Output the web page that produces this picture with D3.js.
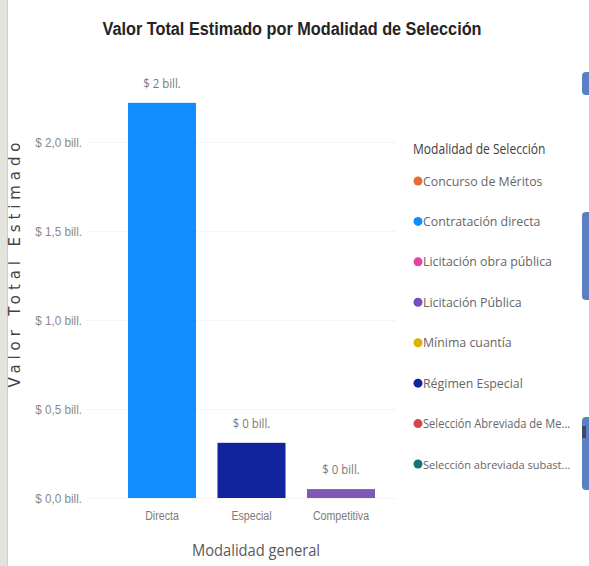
<!DOCTYPE html>
<meta charset="utf-8">
<title>Valor Total Estimado por Modalidad de Selección</title>
<body>
<script src="https://cdn.jsdelivr.net/npm/d3@7"></script>
<style>
html, body {
    margin: 0;
    background: #fff;
}
svg {
    display: block;
    font-family: "Open Sans", "Noto Sans", sans-serif;
}
</style>
<script>
var width = 589,
    height = 566;

// datos
var categorias = ["Directa", "Especial", "Competitiva"],
    valores = [2.22, 0.31, 0.05],
    etiquetas = ["$ 2 bill.", "$ 0 bill.", "$ 0 bill."],
    coloresBarra = ["#118DFF", "#12239E", "#7E57B8"];

var ticks = [0, 0.5, 1.0, 1.5, 2.0],
    tickLabels = ["$ 0,0 bill.", "$ 0,5 bill.", "$ 1,0 bill.", "$ 1,5 bill.", "$ 2,0 bill."];

var leyenda = [
    "Concurso de Méritos",
    "Contratación directa",
    "Licitación obra pública",
    "Licitación Pública",
    "Mínima cuantía",
    "Régimen Especial",
    "Selección Abreviada de Me...",
    "Selección abreviada subast..."
];
var coloresLeyenda = ["#E66C37", "#118DFF", "#E044A7", "#744EC2", "#D9B300", "#12239E", "#D64550", "#197278"];

var svg = d3.select("body").append("svg")
    .attr("width", width)
    .attr("height", height);

// franja gris a la izquierda
svg.append("rect").attr("x", 0).attr("y", 0).attr("width", 7).attr("height", height).attr("fill", "#e4e4df");
svg.append("line").attr("x1", 7.5).attr("x2", 7.5).attr("y1", 0).attr("y2", height).attr("stroke", "#cfcfca");

// bloques azules a la derecha
[[72, 95], [212, 300], [417, 490]].forEach(function(r) {
    svg.append("rect")
        .attr("x", 582).attr("y", r[0])
        .attr("width", 16).attr("height", r[1] - r[0])
        .attr("rx", 4)
        .attr("fill", "#5B7FC0");
});
svg.append("rect").attr("x", 582).attr("y", 426).attr("width", 4).attr("height", 12).attr("fill", "#3a4a66");

function condensar(sel, f, max) {
    sel.each(function() {
        var t = d3.select(this),
            l = this.getComputedTextLength();
        // si el texto no cabe, se reduce la letra
        if (max && l > max) {
            t.attr("font-size", +t.attr("font-size") * max / l);
            l = max;
        }
        t.attr("textLength", l * f).attr("lengthAdjust", "spacingAndGlyphs");
    });
}

// título
svg.append("text")
    .attr("x", 292)
    .attr("y", 35)
    .attr("text-anchor", "middle")
    .attr("font-family", "Liberation Sans, Arial, sans-serif")
    .attr("font-weight", "bold")
    .attr("font-size", 18)
    .attr("fill", "#252423")
    .text("Valor Total Estimado por Modalidad de Selección")
    .attr("textLength", 379)
    .attr("lengthAdjust", "spacingAndGlyphs");

var y = d3.scaleLinear()
    .domain([0, 2])
    .range([498, 142]);

var x = d3.scaleBand()
    .domain(categorias)
    .range([117, 386])
    .paddingInner(0.24)
    .paddingOuter(0.123);

// rejilla
svg.append("g")
    .selectAll("line")
    .data(ticks)
    .enter().append("line")
    .attr("x1", 86)
    .attr("x2", 396)
    .attr("y1", function(d) { return y(d) + 0.5; })
    .attr("y2", function(d) { return y(d) + 0.5; })
    .attr("stroke", "#ececec")
    .attr("stroke-dasharray", "1,1");

// eje y
var yAxis = svg.append("g")
    .attr("transform", "translate(82,0)")
    .call(d3.axisLeft(y).tickValues(ticks).tickSize(0).tickPadding(0)
        .tickFormat(function(d, i) { return tickLabels[i]; }));
yAxis.select(".domain").remove();
yAxis.selectAll("text")
    .attr("font-size", 13)
    .attr("fill", "#8a8a8a")
    .call(condensar, 0.9);

// barras
svg.append("g")
    .selectAll("rect")
    .data(valores)
    .enter().append("rect")
    .attr("x", function(d, i) { return x(categorias[i]); })
    .attr("y", function(d) { return y(d); })
    .attr("width", x.bandwidth())
    .attr("height", function(d) { return y(0) - y(d); })
    .attr("fill", function(d, i) { return coloresBarra[i]; });

// etiquetas de datos
svg.append("g")
    .selectAll("text")
    .data(valores)
    .enter().append("text")
    .attr("x", function(d, i) { return x(categorias[i]) + x.bandwidth() / 2; })
    .attr("y", function(d) { return y(d) - 15; })
    .attr("text-anchor", "middle")
    .attr("font-size", 13)
    .attr("fill", "#7a7a7a")
    .text(function(d, i) { return etiquetas[i]; })
    .call(condensar, 0.88);

// eje x
var xAxis = svg.append("g")
    .attr("transform", "translate(0,511)")
    .call(d3.axisBottom(x).tickSize(0).tickPadding(0));
xAxis.select(".domain").remove();
xAxis.selectAll("text")
    .attr("font-size", 12.5)
    .attr("fill", "#7a7a7a")
    .call(condensar, 0.85);

// títulos de ejes
svg.append("text")
    .attr("x", 256)
    .attr("y", 556)
    .attr("text-anchor", "middle")
    .attr("font-size", 16)
    .attr("fill", "#5a5a5a")
    .text("Modalidad general")
    .call(condensar, 0.92);

svg.append("text")
    .attr("transform", "translate(20,265) rotate(-90)")
    .attr("text-anchor", "middle")
    .attr("font-family", "DejaVu Sans, sans-serif")
    .attr("font-size", 15)
    .attr("fill", "#444")
    .text("Valor Total Estimado")
    .attr("textLength", 245)
    .attr("lengthAdjust", "spacing");

// leyenda
var gl = svg.append("g");
gl.append("text")
    .attr("x", 413)
    .attr("y", 154)
    .attr("font-size", 14)
    .attr("fill", "#404040")
    .text("Modalidad de Selección")
    .call(condensar, 0.86);

var ly = d3.scalePoint()
    .domain(leyenda)
    .range([181, 464]);

var item = gl.selectAll("g.item")
    .data(leyenda)
    .enter().append("g")
    .attr("class", "item")
    .attr("transform", function(d) { return "translate(0," + ly(d) + ")"; });

item.append("circle")
    .attr("cx", 418)
    .attr("cy", 0)
    .attr("r", 4.5)
    .attr("fill", function(d, i) { return coloresLeyenda[i]; });

item.append("text")
    .attr("x", 423)
    .attr("y", 4.5)
    .attr("font-size", 13)
    .attr("fill", "#666")
    .text(function(d) { return d; })
    .call(condensar, 0.95, 155);
</script>
